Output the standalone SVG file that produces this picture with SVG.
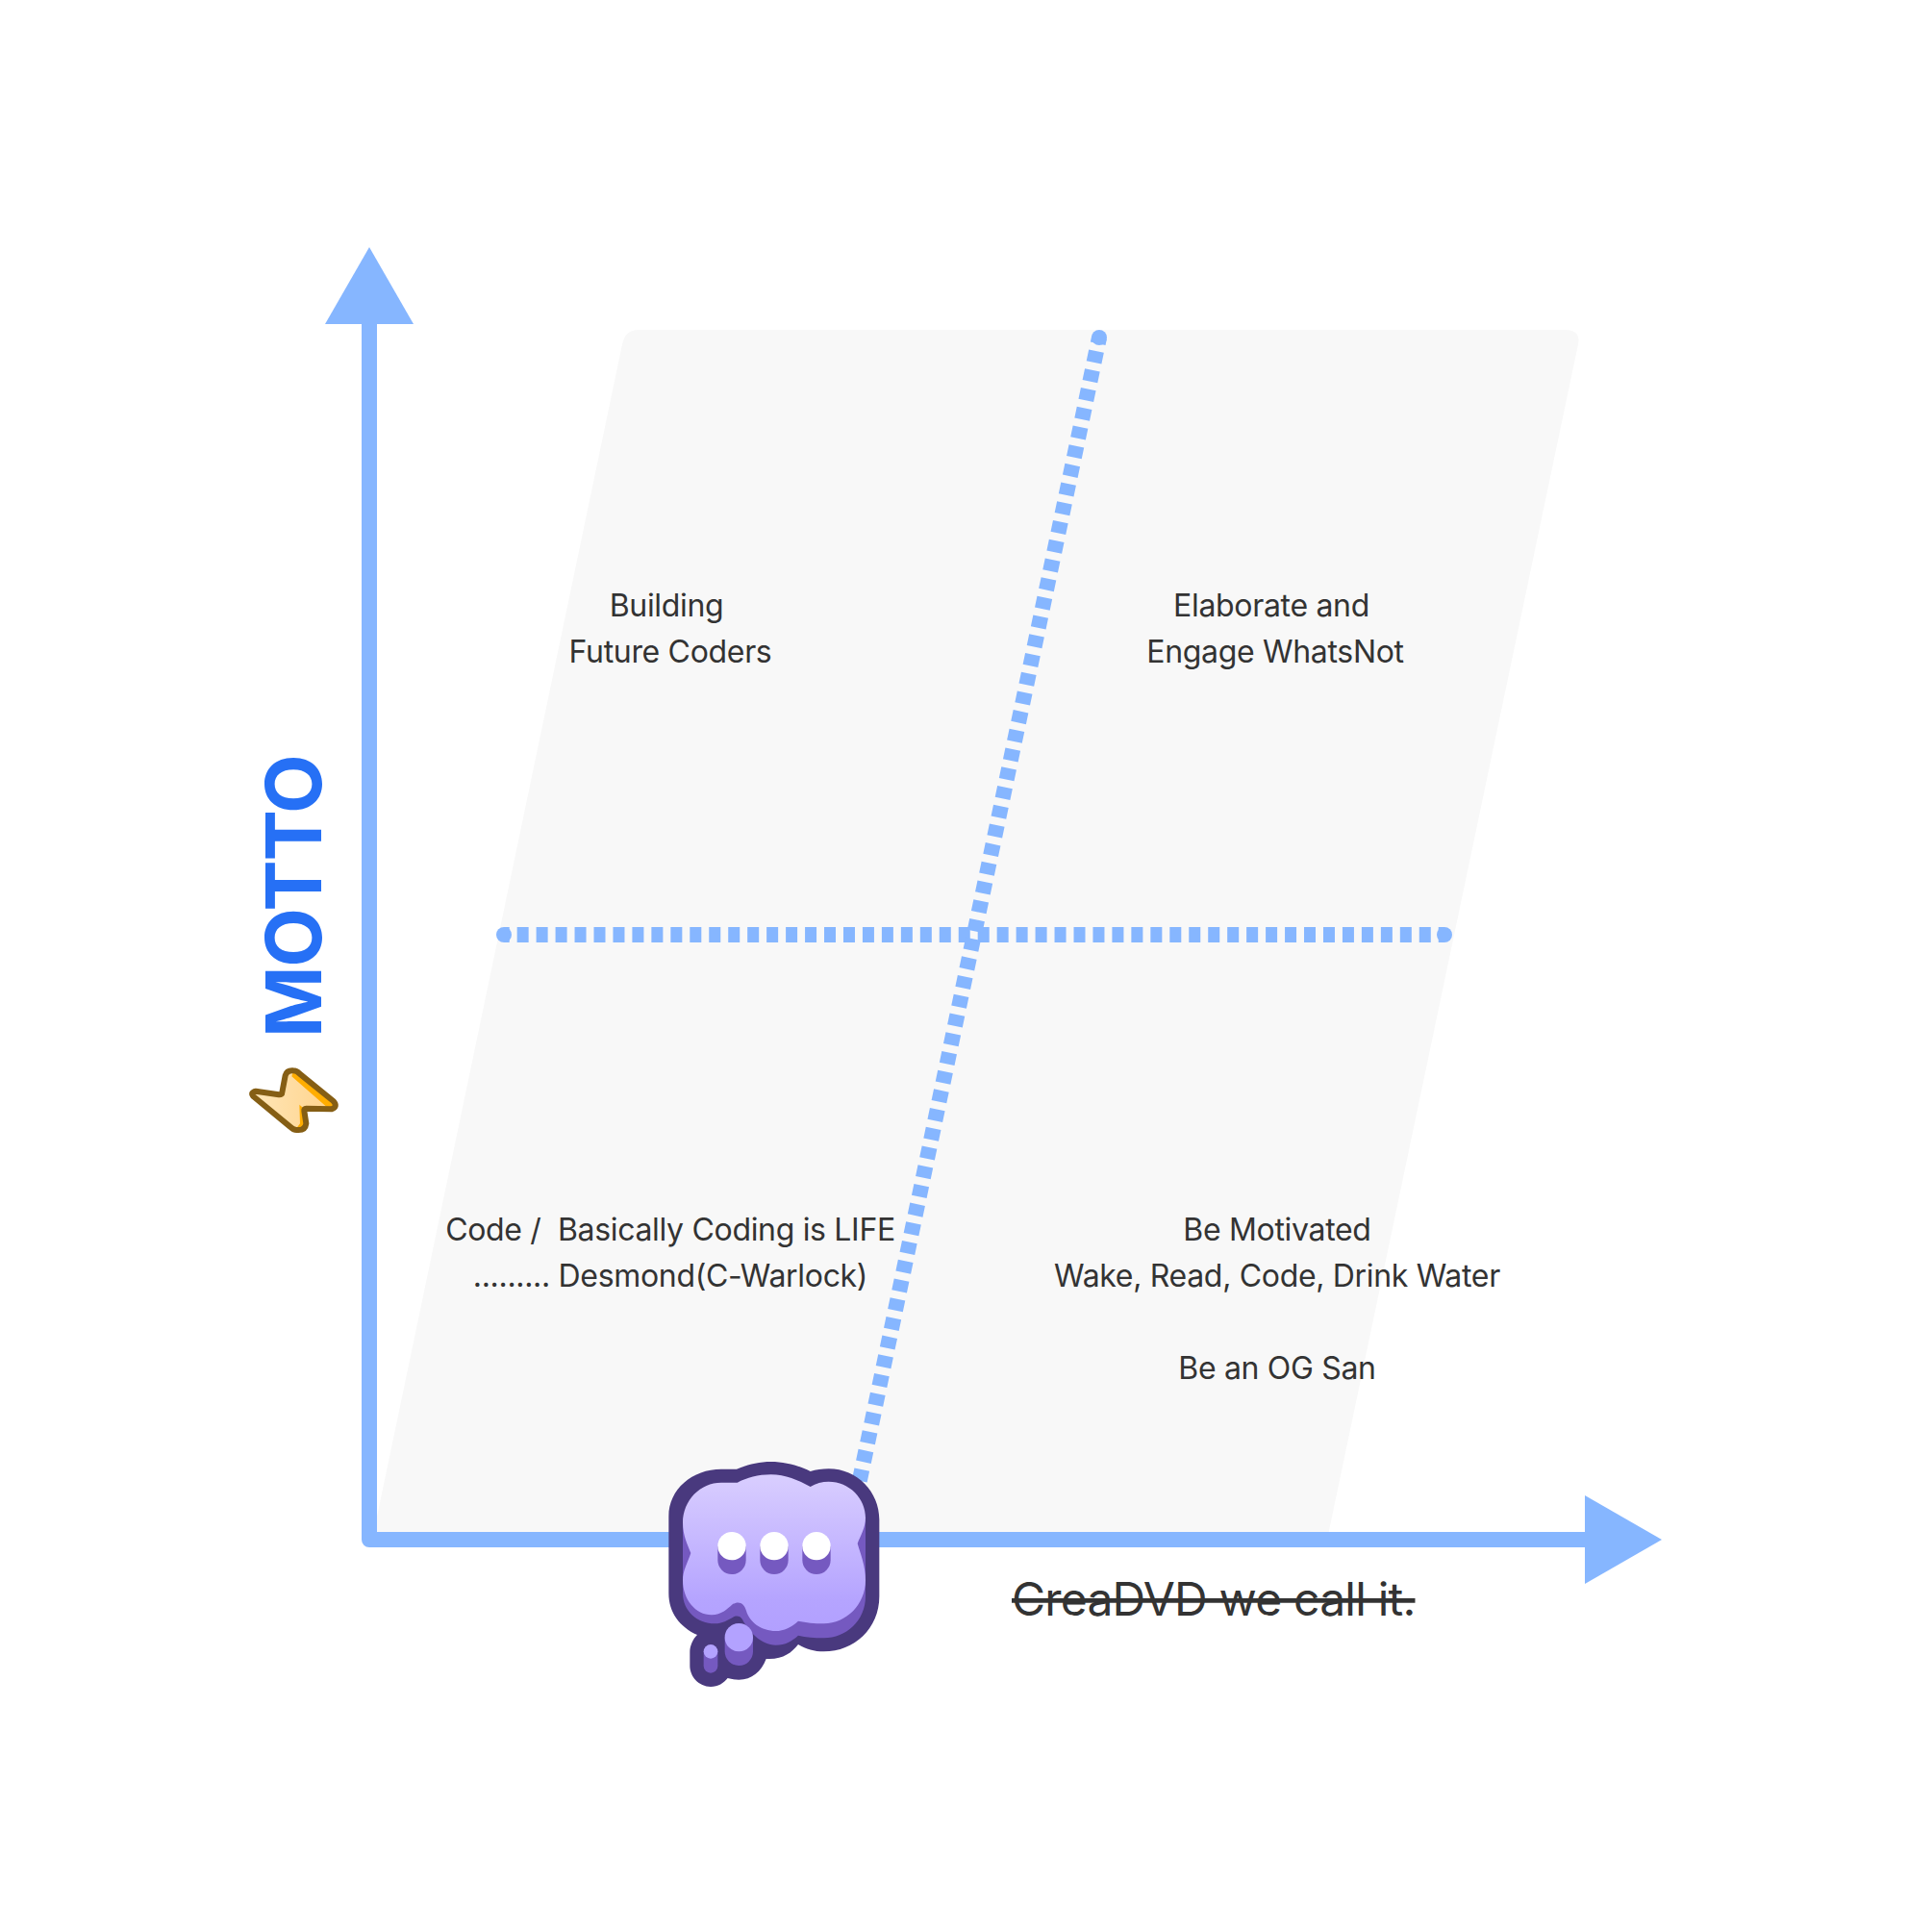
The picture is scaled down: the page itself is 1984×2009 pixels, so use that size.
<svg xmlns="http://www.w3.org/2000/svg" width="1984" height="2009" viewBox="0 0 1984 2009">
<style>
.t{font-family:Inter,"Liberation Sans",sans-serif;font-size:32px;fill:#333;text-anchor:middle;letter-spacing:-.32px}
.dash{stroke:#86b6ff;stroke-width:16;fill:none}
.blue{fill:#86b6ff}
.dk{fill:#49397e}.sh{fill:#7559c0}.lt{fill:#b3a2ff}
</style>
<defs>
<linearGradient id="cg" x1="0" y1="0" x2="0" y2="1"><stop offset="0" stop-color="#d9ceff"/><stop offset=".8" stop-color="#b5a4ff"/><stop offset="1" stop-color="#b2a0ff"/></linearGradient>
<linearGradient id="bg" x1="0" y1="0" x2="1" y2="0"><stop offset="0" stop-color="#ffe6b8"/><stop offset="1" stop-color="#ffd38a"/></linearGradient>
</defs>
<rect width="1984" height="2009" fill="#fff"/>
<path id="plane" d="M664 343H1627Q1644 343 1641 358L1380 1601H387L647 358Q650 343 664 343Z" fill="#f8f8f8"/>
<g id="connectors">
<path d="M384 337V1601H1650" fill="none" stroke="#86b6ff" stroke-width="16" stroke-linejoin="round"/>
<polygon class="blue" points="384,257 430,337 338,337"/>
<polygon class="blue" points="1728,1601 1648,1555 1648,1647"/>
<path class="dash" stroke-dasharray="12 7.96" stroke-dashoffset="6.3" d="M524 972H1502"/>
<circle class="blue" cx="524" cy="972" r="8"/>
<circle class="blue" cx="1502" cy="972" r="8"/>
<path class="dash" stroke-dasharray="12 8.14" stroke-dashoffset="5.6" d="M1143 351L881 1601"/>
<circle class="blue" cx="1143" cy="351" r="8"/>
</g>
<g id="q1"><text class="t" x="693" y="641">Building</text><text class="t" x="697" y="689">Future Coders</text></g>
<g id="q2"><text class="t" x="1322" y="641">Elaborate and</text><text class="t" x="1326" y="689">Engage WhatsNot</text></g>
<g id="q3"><text class="t" x="697" y="1290" xml:space="preserve">Code /  Basically Coding is LIFE</text><text class="t" x="697" y="1338">......... Desmond(C-Warlock)</text></g>
<g id="q4"><text class="t" x="1328" y="1290">Be Motivated</text><text class="t" x="1328" y="1338">Wake, Read, Code, Drink Water</text><text class="t" x="1328" y="1434">Be an OG San</text></g>
<g id="xlabel"><text x="1052" y="1680" font-family="Inter,'Liberation Sans',sans-serif" font-size="48" fill="#333" letter-spacing="-.8" text-decoration="line-through">CreaDVD we call it.</text></g>
<g id="ylabel"><text transform="translate(334 1079) rotate(-90)" font-family="Inter,'Liberation Sans',sans-serif" font-size="80" font-weight="700" fill="#2670f5" letter-spacing="-1.2">MOTTO</text></g>
<g id="bolt" transform="translate(240 760) scale(.33333)"><path d="M78 1124L150 1135Q160 1136 160 1128L170 1075Q175 1058 195 1060Q205 1060 215 1070L320 1155Q335 1172 315 1180L235 1178Q228 1178 229 1186L235 1225Q232 1248 205 1245Q195 1245 185 1235L70 1140Q60 1128 78 1124Z" fill="url(#bg)"/><path d="M193 1067Q205 1064 213 1073L318 1158Q326 1172 312 1173L298 1172L190 1078ZM214 1166L228 1178L233 1225Q228 1242 205 1240L216 1225Z" fill="#ffad00"/><path d="M78 1124L150 1135Q160 1136 160 1128L170 1075Q175 1058 195 1060Q205 1060 215 1070L320 1155Q335 1172 315 1180L235 1178Q228 1178 229 1186L235 1225Q232 1248 205 1245Q195 1245 185 1235L70 1140Q60 1128 78 1124Z" fill="none" stroke="#855e14" stroke-width="18" stroke-linejoin="round"/></g>
<g id="cloud" transform="translate(660 1480) scale(.33333)">
<path class="dk" d="M318 143C350 130 385 120 425 120C470 120 515 133 548 150C565 145 585 142 605 142C695 142 763 215 763 300V540C763 640 685 712 590 712C560 712 535 705 510 690C490 715 465 735 420 735L410 735C395 775 365 800 325 800C312 800 300 798 290 795C278 810 260 822 237 822C200 822 172 790 172 757V712C172 695 182 672 195 660C140 635 106 590 106 530V290C106 205 180 143 270 143C288 143 303 143 318 143Z"/>
<path class="sh" d="M150 300V530C150 585 195 625 250 625C272 625 290 615 310 603C322 600 330 603 336 612C355 650 395 692 440 692C470 692 490 680 510 662C535 668 560 670 590 670C660 670 720 615 720 540V300Z"/>
<path fill="url(#cg)" d="M320 185C350 170 385 160 425 160C470 160 510 178 548 198C565 187 585 182 605 182C670 182 720 235 720 295C720 325 705 350 695 375C705 410 720 445 720 490C720 565 660 625 590 625C560 625 535 622 510 617C490 635 465 648 440 648C395 648 358 620 348 585C342 562 325 552 305 565C288 580 270 598 240 598C190 598 150 550 150 490C150 460 165 435 175 405C165 380 150 350 150 310C150 240 205 185 270 185C288 185 305 185 320 185Z"/>
<g class="sh"><path d="M259 383H347V427A44 44 0 0 1 259 427Z"/><path d="M391 383H479V427A44 44 0 0 1 391 427Z"/><path d="M523 383H611V427A44 44 0 0 1 523 427Z"/></g>
<g fill="#fff"><circle cx="303" cy="383" r="44"/><circle cx="435" cy="383" r="44"/><circle cx="567" cy="383" r="44"/></g>
<path class="sh" d="M281 668H369V712A44 44 0 0 1 281 712Z"/><circle class="lt" cx="325" cy="668" r="44"/>
<path class="sh" d="M215 712H259V757A22 22 0 0 1 215 757Z"/><circle class="lt" cx="237" cy="712" r="22"/>
</g>
</svg>
